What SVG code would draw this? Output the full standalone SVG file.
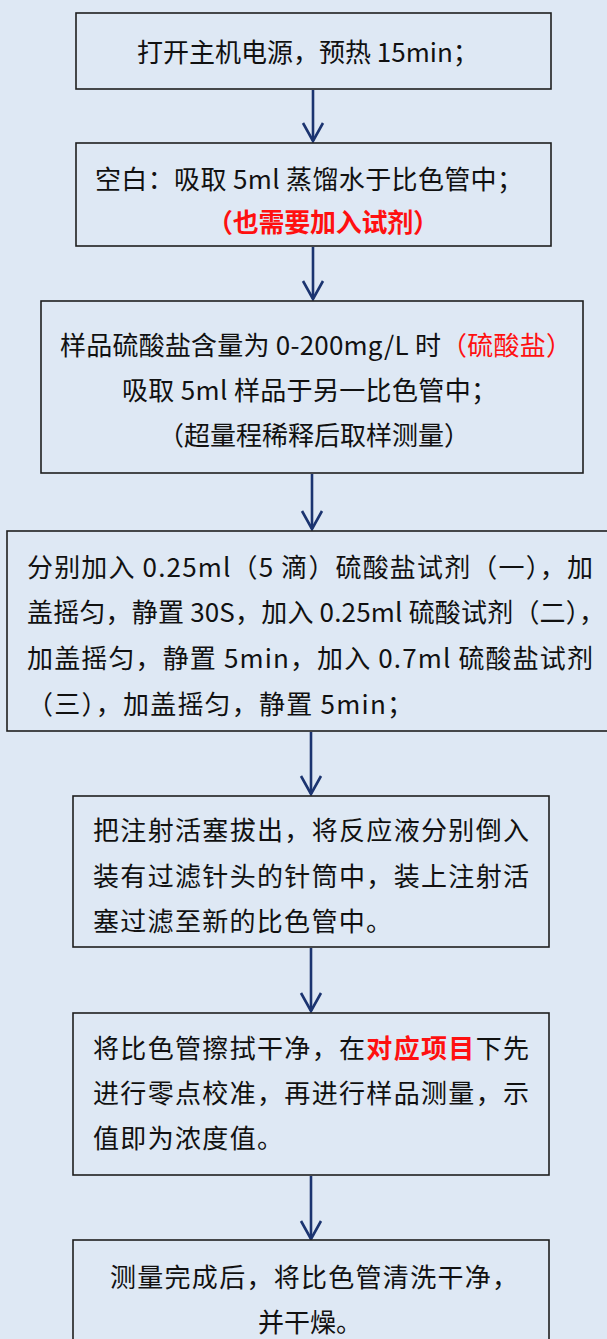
<svg xmlns="http://www.w3.org/2000/svg" width="607" height="1339" viewBox="0 0 607 1339">
<defs>
<style>
.box{fill:#dee8f4;stroke:#1e1e1e;stroke-width:1.6}
.t{font-family:"Noto Sans CJK SC","Noto Sans",sans-serif;font-size:26px;fill:#111}
.red{fill:#ff1010}
.rb{fill:#ff1010;font-weight:bold}
.conn line{stroke:#1b3470;stroke-width:2.6}
</style>
<marker id="ah" markerUnits="userSpaceOnUse" markerWidth="22" markerHeight="24" refX="19" refY="11" orient="auto" viewBox="0 0 22 22">
<path d="M1,1 L19,11 L1,21" fill="none" stroke="#1b3470" stroke-width="2.6"/>
</marker>
</defs>
<rect x="0" y="0" width="607" height="1339" fill="#dee8f4"/>
<g id="connectors" class="conn">
<line x1="313" y1="90" x2="313" y2="141" marker-end="url(#ah)"/>
<line x1="313" y1="247" x2="313" y2="299" marker-end="url(#ah)"/>
<line x1="312" y1="474" x2="312" y2="529" marker-end="url(#ah)"/>
<line x1="311" y1="732" x2="311" y2="794" marker-end="url(#ah)"/>
<line x1="311" y1="948" x2="311" y2="1011" marker-end="url(#ah)"/>
<line x1="311" y1="1176" x2="311" y2="1239" marker-end="url(#ah)"/>
</g>
<g id="n1">
<rect class="box" x="76" y="13" width="475" height="76"/>
<text class="t" x="137" y="62">打开主机电源，预热 15min；</text>
</g>
<g id="n2">
<rect class="box" x="76" y="143" width="475" height="103"/>
<text class="t" x="95" y="189" textLength="428" lengthAdjust="spacing">空白：吸取 5ml 蒸馏水于比色管中；</text>
<text class="t rb" x="207" y="232" textLength="232" lengthAdjust="spacing">（也需要加入试剂）</text>
</g>
<g id="n3">
<rect class="box" x="41" y="301" width="542" height="172"/>
<text class="t" x="60" y="355" textLength="512" lengthAdjust="spacing">样品硫酸盐含量为 0-200mg/L 时<tspan class="red">（硫酸盐）</tspan></text>
<text class="t" x="122" y="400" textLength="375" lengthAdjust="spacing">吸取 5ml 样品于另一比色管中；</text>
<text class="t" x="158" y="445" textLength="312" lengthAdjust="spacing">（超量程稀释后取样测量）</text>
</g>
<g id="n4">
<rect class="box" x="7" y="531" width="610" height="200"/>
<text class="t" x="27" y="577" textLength="566" lengthAdjust="spacing">分别加入 0.25ml（5 滴）硫酸盐试剂（一），加</text>
<text class="t" x="27" y="622" textLength="578" lengthAdjust="spacing">盖摇匀，静置 30S，加入 0.25ml 硫酸试剂（二），</text>
<text class="t" x="27" y="668" textLength="566" lengthAdjust="spacing">加盖摇匀，静置 5min，加入 0.7ml 硫酸盐试剂</text>
<text class="t" x="27" y="714" textLength="386" lengthAdjust="spacing">（三），加盖摇匀，静置 5min；</text>
</g>
<g id="n5">
<rect class="box" x="73" y="796" width="476" height="151"/>
<text class="t" x="93" y="840" textLength="436" lengthAdjust="spacing">把注射活塞拔出，将反应液分别倒入</text>
<text class="t" x="93" y="886" textLength="436" lengthAdjust="spacing">装有过滤针头的针筒中，装上注射活</text>
<text class="t" x="93" y="931" textLength="299" lengthAdjust="spacing">塞过滤至新的比色管中。</text>
</g>
<g id="n6">
<rect class="box" x="73" y="1013" width="476" height="162"/>
<text class="t" x="93" y="1058" textLength="436" lengthAdjust="spacing">将比色管擦拭干净，在<tspan class="rb">对应项目</tspan>下先</text>
<text class="t" x="93" y="1103" textLength="436" lengthAdjust="spacing">进行零点校准，再进行样品测量，示</text>
<text class="t" x="93" y="1148" textLength="190" lengthAdjust="spacing">值即为浓度值。</text>
</g>
<g id="n7">
<rect class="box" x="73" y="1240" width="476" height="110"/>
<text class="t" x="110" y="1287" textLength="408" lengthAdjust="spacing">测量完成后，将比色管清洗干净，</text>
<text class="t" x="258" y="1332">并干燥。</text>
</g>
</svg>
